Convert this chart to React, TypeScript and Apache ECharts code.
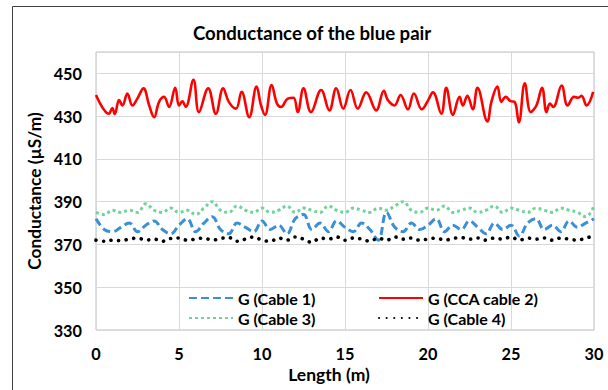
import React, { useEffect, useRef } from "react";
import * as echarts from "echarts";

const title = "Conductance of the blue pair";
const xName = "Length (m)";
const yName = "Conductance (µS/m)";

// Cable 2 (CCA) - read at its turning points: [length, value]
const cable2Len = [0, 0.78, 0.98, 1.13, 1.39, 1.59, 1.89, 2.19, 2.49, 2.86, 3.2, 3.5, 3.8, 4.1, 4.4, 4.77, 5.0, 5.2, 5.4, 5.87, 6.2, 6.76, 7.22, 7.66, 8.0, 8.43, 8.77, 9.23, 9.67, 9.94, 10.18, 10.58, 10.9, 11.15, 11.55, 11.9, 12.15, 12.5, 12.95, 13.56, 14.06, 14.47, 14.9, 15.33, 15.77, 16.28, 16.88, 17.34, 17.58, 17.98, 18.35, 18.79, 19.15, 19.63, 19.96, 20.3, 20.8, 21.1, 21.5, 21.9, 22.1, 22.37, 22.7, 22.98, 23.58, 23.82, 24.18, 24.42, 24.68, 24.98, 25.22, 25.47, 25.83, 26.19, 26.53, 26.87, 27.14, 27.34, 27.54, 28.05, 28.41, 28.8, 29.05, 29.25, 29.55, 29.95];
const cable2Val = [439.9, 431.1, 433.8, 431.0, 437.5, 435.0, 440.6, 435.0, 438.2, 443.0, 435.1, 429.5, 436.7, 439.0, 434.3, 443.3, 435.0, 437.0, 434.3, 447.0, 431.9, 443.0, 431.1, 443.0, 436.7, 433.5, 441.4, 429.5, 443.8, 435.0, 430.6, 444.6, 435.9, 434.3, 438.2, 438.6, 431.9, 443.0, 431.9, 442.2, 432.7, 443.0, 433.5, 442.2, 433.5, 441.1, 432.7, 441.9, 437.5, 435.0, 439.9, 433.2, 440.6, 433.2, 436.7, 441.1, 431.1, 443.3, 430.6, 439.0, 435.0, 439.5, 433.2, 443.3, 427.5, 436.7, 443.8, 436.7, 439.0, 437.0, 436.7, 427.1, 445.4, 431.9, 435.0, 443.3, 431.9, 435.9, 434.3, 444.3, 435.0, 439.0, 438.6, 439.5, 435.0, 441.4];

// Cables 1, 3, 4 sampled every 0.5 m
const sampleLen = Array.from({ length: 61 }, (_, i) => i * 0.5);
const cable1Val = [382, 377, 376, 378, 380, 376, 379, 381, 377, 375, 379, 382, 376, 380, 383, 377, 375, 380, 378, 376, 381, 377, 379, 375, 382, 384, 377, 380, 376, 381, 378, 376, 380, 377, 372, 385, 378, 376, 380, 377, 379, 382, 376, 379, 377, 381, 378, 375, 380, 377, 379, 374, 380, 382, 377, 379, 376, 381, 378, 380, 382];
const cable3Val = [385, 384, 386, 385, 386, 385, 389, 386, 385, 387, 385, 386, 384, 387, 390, 386, 385, 388, 386, 385, 387, 385, 386, 388, 385, 387, 386, 385, 388, 386, 385, 387, 386, 385, 387, 386, 388, 390, 386, 385, 387, 386, 388, 385, 386, 387, 385, 386, 388, 385, 387, 386, 385, 387, 386, 385, 387, 386, 385, 383, 388];
const cable4Val = [372, 371.5, 372, 371.8, 372.5, 373, 372, 372.5, 371.5, 372.8, 373, 372, 372.5, 373, 372, 372.8, 373.2, 371.5, 372.5, 373.5, 372, 371.5, 373, 372, 373.5, 372.5, 371, 373, 372.5, 373.5, 372, 373, 372.5, 371.5, 373, 372, 373.5, 372.5, 373, 372, 372.5, 373, 372, 372.8, 373.2, 372.5, 373, 372, 373, 372.5, 373.5, 372, 373, 372.5, 373, 372, 373, 372.5, 372, 373, 374];

const seriesNames = ["G (Cable 1)", "G (CCA cable 2)", "G (Cable 3)", "G (Cable 4)"];

const FONT = "Lato";

function pairs(xs: number[], ys: number[]) {
  return xs.map((x, i) => [x, ys[i]]);
}

export default function App() {
  const ref = useRef<HTMLDivElement>(null);
  useEffect(() => {
    if (!ref.current) return;
    const chart = echarts.init(ref.current, undefined, { renderer: "svg" });
    const legendText = { fontFamily: FONT, fontWeight: "bold" as const, fontSize: 16, color: "#000" };
    const legendCommon = {
      orient: "vertical",
      top: 285,
      itemWidth: 44,
      itemHeight: 10,
      itemGap: 4,
      textStyle: legendText,
      itemStyle: { opacity: 0 },
    };
    chart.setOption({
      animation: false,
      backgroundColor: "#fff",
      title: {
        text: title,
        left: 188,
        top: 18,
        textStyle: { fontFamily: FONT, fontWeight: "bold", fontSize: 18.6, color: "#000" },
      },
      graphic: [
        {
          type: "rect",
          shape: { x: 12.5, y: 6.5, width: 700, height: 500 },
          style: { fill: "none", stroke: "#404040", lineWidth: 1 },
          silent: true,
        },
      ],
      grid: {
        left: 96,
        right: 14,
        top: 52,
        bottom: 60,
        show: true,
        borderColor: "#bfbfbf",
        borderWidth: 1,
      },
      legend: [
        { ...legendCommon, data: [seriesNames[0], seriesNames[2]], left: 183 },
        { ...legendCommon, data: [seriesNames[1], seriesNames[3]], left: 373 },
      ],
      xAxis: {
        type: "value",
        min: 0,
        max: 30,
        interval: 5,
        name: xName,
        nameLocation: "middle",
        nameGap: 35,
        nameTextStyle: { fontFamily: FONT, fontWeight: "bold", fontSize: 17.5, color: "#000", padding: [0, 32, 0, 0] },
        axisLine: { show: false },
        axisTick: { show: false },
        axisLabel: { margin: 15, fontFamily: FONT, fontWeight: "bold", fontSize: 16.3, color: "#000" },
        splitLine: { show: true, lineStyle: { color: "#d9d9d9", width: 1 } },
      },
      yAxis: {
        type: "value",
        min: 330,
        max: 460,
        interval: 20,
        name: yName,
        nameLocation: "middle",
        nameGap: 51,
        nameTextStyle: { fontFamily: FONT, fontWeight: "bold", fontSize: 17.3, color: "#000" },
        axisLine: { show: false },
        axisTick: { show: false },
        axisLabel: {
          margin: 14,
          showMaxLabel: false,
          fontFamily: FONT,
          fontWeight: "bold",
          fontSize: 16.3,
          color: "#000",
          formatter: (v: number) => (v === 460 ? "" : String(v)),
        },
        splitLine: { show: true, lineStyle: { color: "#d9d9d9", width: 1 } },
      },
      series: [
        {
          name: seriesNames[0],
          type: "line",
          data: pairs(sampleLen, cable1Val),
          smooth: 0.4,
          symbol: "none",
          color: "#3b8ed8",
          lineStyle: { color: "#3b8ed8", width: 3, type: [8, 4] },
          z: 3,
        },
        {
          name: seriesNames[1],
          type: "line",
          data: pairs(cable2Len, cable2Val),
          smooth: 0.4,
          symbol: "none",
          color: "#ff0000",
          lineStyle: { color: "#ff0000", width: 2.6 },
          z: 4,
        },
        {
          name: seriesNames[2],
          type: "line",
          data: pairs(sampleLen, cable3Val),
          smooth: 0.4,
          symbol: "none",
          color: "#6fd39b",
          lineStyle: { color: "#6fd39b", width: 3, type: [3, 3] },
          z: 2,
        },
        {
          name: seriesNames[3],
          type: "line",
          data: pairs(sampleLen, cable4Val),
          smooth: 0.4,
          symbol: "none",
          color: "#000000",
          lineStyle: { color: "#000000", width: 3.6, type: [0.1, 7.5], cap: "round" },
          z: 5,
        },
      ],
    });
    return () => chart.dispose();
  }, []);
  return (
    <div
      ref={ref}
      style={{ position: "fixed", left: 0, top: 0, width: 608, height: 390 }}
    />
  );
}
